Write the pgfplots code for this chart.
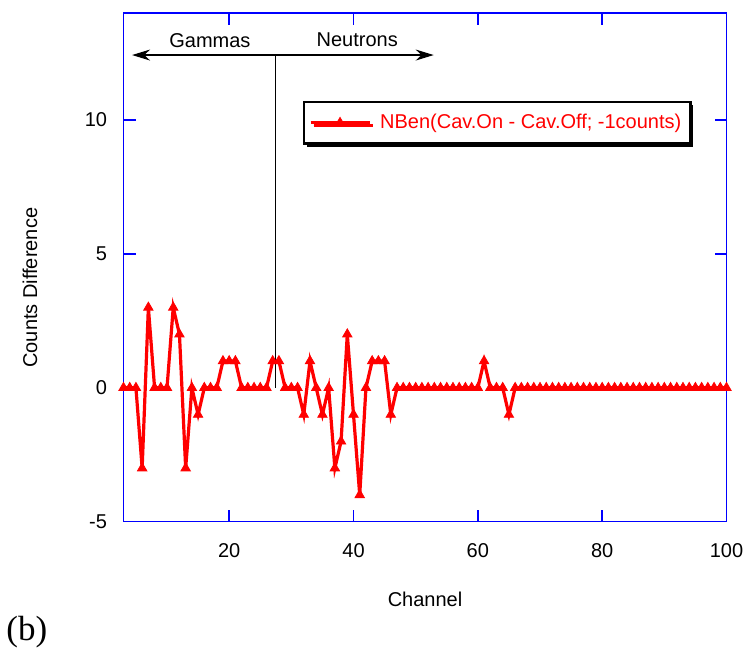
\documentclass[border=0pt]{standalone}
\usepackage{fontspec}
\setmainfont{Liberation Sans}
\newfontfamily\serifb{Liberation Serif}
\usepackage{pgfplots}
\usepackage{pgfplotstable}
\pgfplotsset{compat=1.18}
\usetikzlibrary{arrows.meta,shadows}

\pgfplotstableread{
x y
3 0
4 0
5 0
6 -3
7 3
8 0
9 0
10 0
11 3
12 2
13 -3
14 0
15 -1
16 0
17 0
18 0
19 1
20 1
21 1
22 0
23 0
24 0
25 0
26 0
27 1
28 1
29 0
30 0
31 0
32 -1
33 1
34 0
35 -1
36 0
37 -3
38 -2
39 2
40 -1
41 -4
42 0
43 1
44 1
45 1
46 -1
47 0
48 0
49 0
50 0
51 0
52 0
53 0
54 0
55 0
56 0
57 0
58 0
59 0
60 0
61 1
62 0
63 0
64 0
65 -1
66 0
67 0
68 0
69 0
70 0
71 0
72 0
73 0
74 0
75 0
76 0
77 0
78 0
79 0
80 0
81 0
82 0
83 0
84 0
85 0
86 0
87 0
88 0
89 0
90 0
91 0
92 0
93 0
94 0
95 0
96 0
97 0
98 0
99 0
100 0
}\datatable

\begin{document}
\begin{tikzpicture}
\begin{axis}[
  scale only axis, width=301.5pt, height=254.35pt,
  xmin=3, xmax=100, ymin=-5, ymax=14,
  xtick={20,40,60,80,100}, ytick={-5,0,5,10},
  tick align=inside, major tick length=6pt,
  axis line style={blue, line width=0.75pt},
  every tick/.style={blue, line width=0.75pt},
  tick label style={font=\fontsize{10}{12}\selectfont},
  /pgf/number format/assume math mode=true,
  xticklabel style={yshift=-7.5pt},
  yticklabel style={xshift=-4.7pt},
  clip=false,
  legend style={at={(axis description cs:0.297,0.8276)}, anchor=north west,
    draw=black, line width=1.35pt, fill=white, text=red,
    drop shadow={shadow xshift=1.5pt, shadow yshift=-1.5pt, opacity=1, fill=black},
    font=\fontsize{10}{12}\selectfont, inner xsep=2.5pt, inner ysep=4pt},
  legend cell align=left,
  legend image code/.code={\draw[#1, mark repeat=2, mark phase=2] plot coordinates {(0pt,0pt) (14.75pt,0pt) (29.5pt,0pt)};
    \path (32pt,0pt);},
]
\addplot[red, line width=1.6pt, mark=triangle*, mark size=2.7pt,
  mark options={solid, fill=red, line width=0.4pt}] table[x=x,y=y] {\datatable};
\addlegendentry{NBen(Cav.On - Cav.Off; -1counts)}

\draw[black, line width=0.6pt, {Stealth[length=9pt,width=5.5pt]}-{Stealth[length=9pt,width=5.5pt]}]
  (axis cs:4.38,12.43) -- (axis cs:52.9,12.43);
\draw[black, line width=0.9pt] (axis cs:27.44,12.43) -- (axis cs:27.44,0);
\node[font=\fontsize{10}{12}\selectfont] at (axis cs:16.9,12.96) {Gammas};
\node[font=\fontsize{10}{12}\selectfont] at (axis cs:40.6,13.0) {Neutrons};

\node[font=\fontsize{10}{12}\selectfont] at ([yshift=-39pt]axis description cs:0.5,0) {Channel};
\node[rotate=90, font=\fontsize{10}{12}\selectfont] at ([xshift=-46.75pt]axis description cs:0,0.46) {Counts Difference};
\node[anchor=west, inner sep=0pt, font=\serifb\fontsize{17.5}{20}\selectfont] at ([xshift=-58.75pt, yshift=-55.15pt]axis description cs:0,0) {(b)};
\end{axis}
\pgfresetboundingbox
\path (current axis.south west) ++(-61.75pt,-66.65pt) rectangle ++(371.5pt,327.5pt);
\end{tikzpicture}
\end{document}
